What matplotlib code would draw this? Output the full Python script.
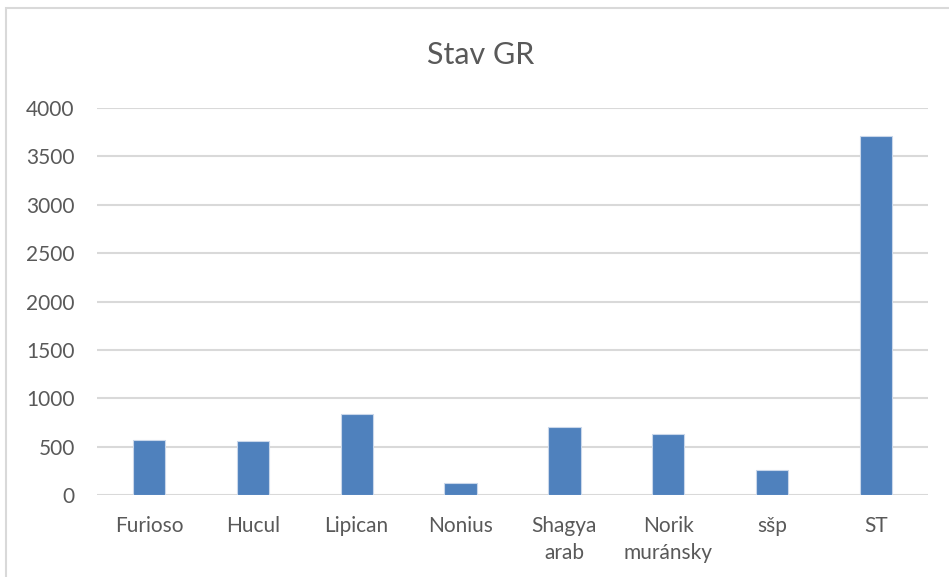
import matplotlib
matplotlib.use('Agg')
import matplotlib.pyplot as plt
from matplotlib.patches import Rectangle

plt.rcParams['font.family'] = ['Lato', 'DejaVu Sans']

breeds = ['Furioso', 'Hucul', 'Lipican', 'Nonius', 'Shagya\narab', 'Norik\nmuránsky', 'sšp', 'ST']
counts = [570, 555, 836, 128, 701, 635, 260, 3711]
yticks = [0, 500, 1000, 1500, 2000, 2500, 3000, 3500, 4000]

text_col = '#595959'

fig = plt.figure(figsize=(9.49, 5.77), dpi=100)
ax = fig.add_axes([97/949, 1 - 495/577, (928-97)/949, (495-108)/577])

x = range(len(breeds))
ax.bar(x, counts, width=0.31, color='#4f81bd', edgecolor='#c9d7ea', linewidth=0.8, zorder=3)

ax.set_xlim(-0.5, len(breeds) - 0.5)
ax.set_ylim(0, 4000)
ax.set_yticks(yticks)
ax.set_xticks(list(x))
ax.set_xticklabels(breeds, fontsize=15, color=text_col, linespacing=1.45)
ax.tick_params(axis='y', labelsize=15, colors=text_col, length=0, pad=16)
ax.tick_params(axis='x', length=0, pad=15)
ax.grid(axis='y', color='#d9d9d9', linewidth=1.5, zorder=0)
for s in ax.spines.values():
    s.set_visible(False)

fig.text(481/949, 1 - 55/577, 'Stav GR', ha='center', va='center', fontsize=22, color=text_col)

# outer chart border
fig.patches.append(Rectangle((6/949, -0.1), 1.2, 1 - 8/577 + 0.1, transform=fig.transFigure,
                             fill=False, edgecolor='#d9d9d9', linewidth=1.5))

fig.savefig('out.png', dpi=100)
